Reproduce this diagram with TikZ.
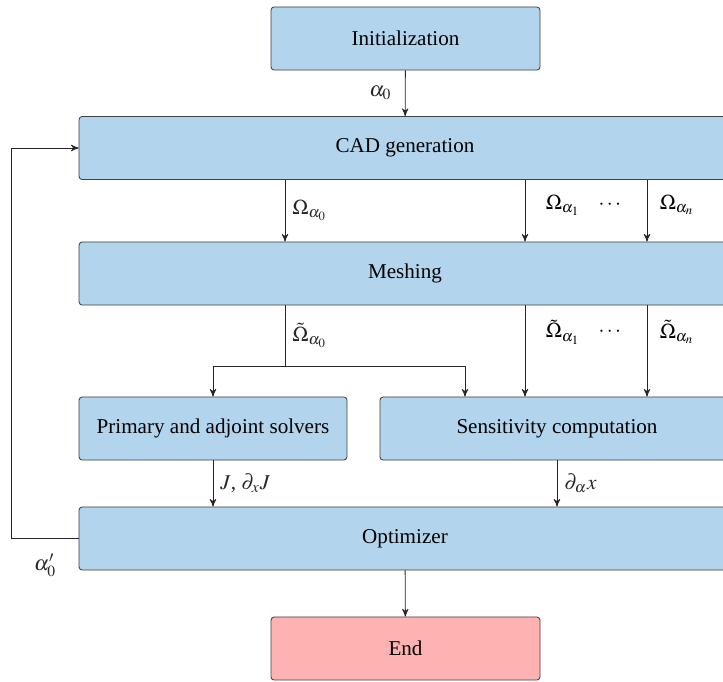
\documentclass[tikz,border=0pt]{standalone}
\usepackage{amsmath}
\usepackage{mathptmx}
\usepackage{fontspec}
\setmainfont{Liberation Serif}
\usepackage{tikz}
\usetikzlibrary{arrows}
\usetikzlibrary{positioning}
\tikzset{block/.style = {draw = black!75, fill = mblue, rounded corners = 1.5pt, minimum height = 29.9pt, inner sep = 0}}
\tikzset{flow/.style = {->, >=stealth', black!85}}
\definecolor{mblue}{rgb}{0.70, 0.83, 0.93}
\definecolor{mred}{rgb}{1, 0.70, 0.70}

\begin{document}
\begin{tikzpicture}[x=0.474pt, y=-0.474pt]
    \useasboundingbox (0, 0) rectangle (723, 681);
    % boxes
    \node [block, minimum width = 127.5pt] (init) at (405.5, 38.5) {Initialization};
    \node [block, minimum width = 309pt] (cad) at (405, 148) {CAD generation};
    \node [block, minimum width = 309pt] (mesh) at (405, 273.5) {Meshing};
    \node [block, minimum width = 127pt] (solver) at (213, 428.5) {Primary and adjoint solvers};
    \node [block, minimum width = 167.8pt] (sens) at (557, 428.5) {Sensitivity computation};
    \node [block, minimum width = 309pt] (opt) at (405, 538.5) {Optimizer};
    \node [block, fill = mred, minimum width = 127.5pt] (end) at (405.5, 648.5) {End};
    % columns
    \coordinate (c0) at (285, 0);
    \coordinate (c1) at (525, 0);
    \coordinate (cn) at (647, 0);
    \coordinate (s0) at (465, 0);
    \coordinate (split) at (285, 366);
    % arrows
    \draw [flow] (init) -- node [left, xshift = -3pt] {$\alpha_0$} (cad);
    \draw [flow] (cad.south -| c0) -- node [right] {$\Omega_{\alpha_0}$} (mesh.north -| c0);
    \draw [flow] (cad.south -| c1) -- (mesh.north -| c1);
    \draw [flow] (cad.south -| cn) -- (mesh.north -| cn);
    \node (o1) at (563, 205) {$\Omega_{\alpha_1}$};
    \node (od) at (611, 205) {$\cdots$};
    \node (on) at (677, 205) {$\Omega_{\alpha_n}$};
    \draw [black!85] (mesh.south -| split) -- node [right] {$\tilde{\Omega}_{\alpha_0}$} (split);
    \draw [flow] (split) -| (solver.north);
    \draw [flow] (split) -| (sens.north -| s0);
    \draw [flow] (mesh.south -| c1) -- (sens.north -| c1);
    \draw [flow] (mesh.south -| cn) -- (sens.north -| cn);
    \node (t1) at (563, 332) {$\tilde{\Omega}_{\alpha_1}$};
    \node (td) at (611, 332) {$\cdots$};
    \node (tn) at (677, 332) {$\tilde{\Omega}_{\alpha_n}$};
    \draw [flow] (solver) -- node [right] {$J$, $\partial_x J$} (solver |- opt.north);
    \draw [flow] (sens) -- node [right] {$\partial_\alpha x$} (sens |- opt.north);
    \draw [flow] (opt) -- (end);
    \draw [flow] (opt.west) -- node [below, yshift = -4pt] {$\alpha_0'$} ++(-67, 0) |- (cad.west);
  \end{tikzpicture}
\end{document}
